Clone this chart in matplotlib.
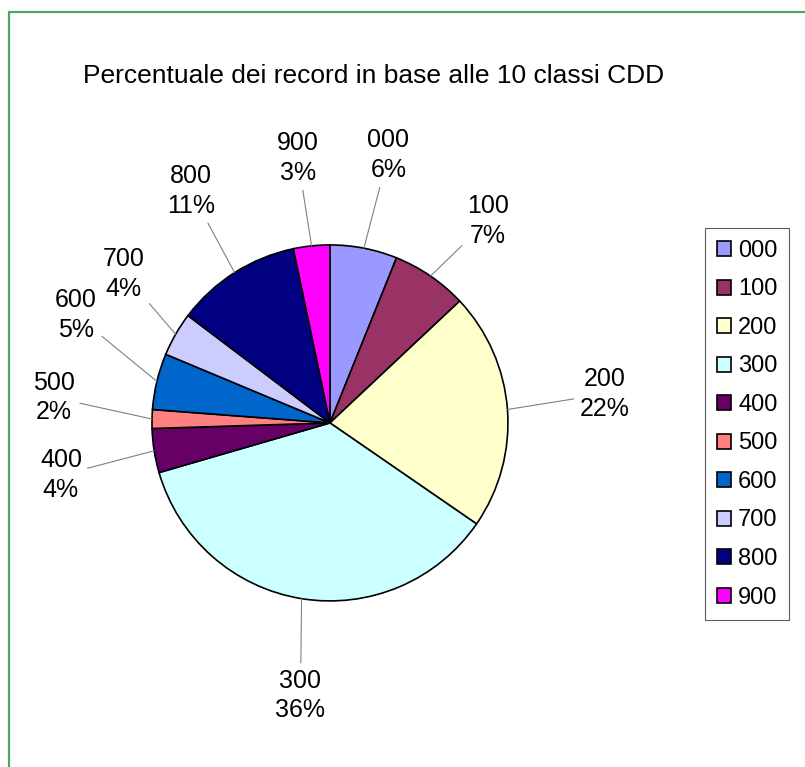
import numpy as np
import matplotlib.pyplot as plt
from matplotlib.patches import Rectangle

plt.rcParams['font.family'] = ['Liberation Sans', 'DejaVu Sans']

# Dati: classi CDD e percentuale dei record
classi = ['000', '100', '200', '300', '400', '500', '600', '700', '800', '900']
percentuali = [6.1, 6.9, 21.6, 35.9, 4.0, 1.7, 5.1, 4.0, 11.4, 3.3]
colori = ['#9999FF', '#993366', '#FFFFCC', '#CCFFFF', '#660066',
          '#FF8080', '#0066CC', '#CCCCFF', '#000080', '#FF00FF']

# spostamenti delle etichette (gradi in senso orario, distanza dal centro)
spost_ang = [1.3, 3.6, -1.7, -3, -2, 4, 9.5, 6, 1.4, -1]
dist_etich = [1.54, 1.44, 1.55, 1.54, 1.54, 1.56, 1.55, 1.43, 1.52, 1.50]

fig = plt.figure(figsize=(8.05, 7.67), dpi=100)
ax = fig.add_axes([0, 0, 1, 1])

wedges, _ = ax.pie(percentuali, colors=colori, startangle=90, counterclock=False,
                   radius=1, wedgeprops=dict(edgecolor='black', linewidth=1.2))
ax.set_xlim(-1.854, 2.669)
ax.set_ylim(-1.933, 2.376)
ax.set_aspect('auto')
ax.axis('off')

# Etichette con linee guida
for w, nome, p, dn, r in zip(wedges, classi, percentuali, spost_ang, dist_etich):
    mid = np.radians((w.theta1 + w.theta2) / 2)
    ang_t = mid - np.radians(dn)
    ax.annotate(f'{nome}\n{p:.0f}%', xy=(np.cos(mid), np.sin(mid)),
                xytext=(r * np.cos(ang_t), r * np.sin(ang_t)),
                ha='center', va='center', fontsize=18, linespacing=1.3,
                arrowprops=dict(arrowstyle='-', color='#808080', lw=0.8,
                                shrinkA=2, shrinkB=0))

fig.text(374 / 805, 1 - 76 / 767, 'Percentuale dei record in base alle 10 classi CDD',
         fontsize=19, ha='center', va='center')

leg = ax.legend(wedges, classi, loc='upper left', bbox_to_anchor=(705 / 805, 1 - 228 / 767),
                bbox_transform=fig.transFigure, fontsize=17, frameon=True, fancybox=False,
                edgecolor='#333333', handlelength=0.6, handleheight=0.6, handletextpad=0.3,
                labelspacing=0.7, borderpad=0.5, borderaxespad=0)
leg.get_frame().set_linewidth(0.8)

# cornice verde
fig.patches.append(Rectangle((8.5 / 805, -0.1), 1.2, 1 - 11.5 / 767 + 0.1, transform=fig.transFigure,
                             fill=False, edgecolor='#4aa866', lw=1.6))

fig.savefig('out.png', dpi=100)
